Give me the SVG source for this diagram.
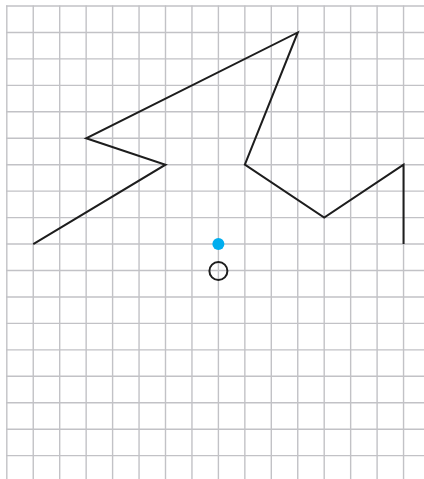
<svg xmlns="http://www.w3.org/2000/svg" width="424" height="479" viewBox="0 0 424 479">
<style>
.grid line{stroke:#c2c2c6;stroke-width:1.4}
.shape{fill:none;stroke:#1d1d1d;stroke-width:2;stroke-linejoin:miter}
</style>
<rect width="424" height="479" fill="#ffffff"/>
<g id="grid" class="grid">
<line x1="6.8" y1="5.5" x2="6.8" y2="479"/>
<line x1="33.25" y1="5.5" x2="33.25" y2="479"/>
<line x1="59.7" y1="5.5" x2="59.7" y2="479"/>
<line x1="86.15" y1="5.5" x2="86.15" y2="479"/>
<line x1="112.6" y1="5.5" x2="112.6" y2="479"/>
<line x1="139.05" y1="5.5" x2="139.05" y2="479"/>
<line x1="165.5" y1="5.5" x2="165.5" y2="479"/>
<line x1="191.95" y1="5.5" x2="191.95" y2="479"/>
<line x1="218.4" y1="5.5" x2="218.4" y2="479"/>
<line x1="244.85" y1="5.5" x2="244.85" y2="479"/>
<line x1="271.3" y1="5.5" x2="271.3" y2="479"/>
<line x1="297.75" y1="5.5" x2="297.75" y2="479"/>
<line x1="324.2" y1="5.5" x2="324.2" y2="479"/>
<line x1="350.65" y1="5.5" x2="350.65" y2="479"/>
<line x1="377.1" y1="5.5" x2="377.1" y2="479"/>
<line x1="403.55" y1="5.5" x2="403.55" y2="479"/>
<line x1="6" y1="6" x2="424" y2="6"/>
<line x1="6" y1="32.45" x2="424" y2="32.45"/>
<line x1="6" y1="58.9" x2="424" y2="58.9"/>
<line x1="6" y1="85.35" x2="424" y2="85.35"/>
<line x1="6" y1="111.8" x2="424" y2="111.8"/>
<line x1="6" y1="138.25" x2="424" y2="138.25"/>
<line x1="6" y1="164.7" x2="424" y2="164.7"/>
<line x1="6" y1="191.15" x2="424" y2="191.15"/>
<line x1="6" y1="217.6" x2="424" y2="217.6"/>
<line x1="6" y1="244.05" x2="424" y2="244.05"/>
<line x1="6" y1="270.5" x2="424" y2="270.5"/>
<line x1="6" y1="296.95" x2="424" y2="296.95"/>
<line x1="6" y1="323.4" x2="424" y2="323.4"/>
<line x1="6" y1="349.85" x2="424" y2="349.85"/>
<line x1="6" y1="376.3" x2="424" y2="376.3"/>
<line x1="6" y1="402.75" x2="424" y2="402.75"/>
<line x1="6" y1="429.2" x2="424" y2="429.2"/>
<line x1="6" y1="455.65" x2="424" y2="455.65"/>
</g>
<g id="figure">
<polyline class="shape" points="33.25,244.05 165.5,164.7 86.15,138.25 297.75,32.45 244.85,164.7 324.2,217.6 403.55,164.7 403.55,244.05"/>
</g>
<g id="dot">
<circle cx="218.4" cy="244.05" r="6" fill="#00aeef"/>
</g>
<g id="ring">
<circle cx="218.4" cy="271" r="9" fill="none" stroke="#1d1d1d" stroke-width="2"/>
</g>
</svg>
